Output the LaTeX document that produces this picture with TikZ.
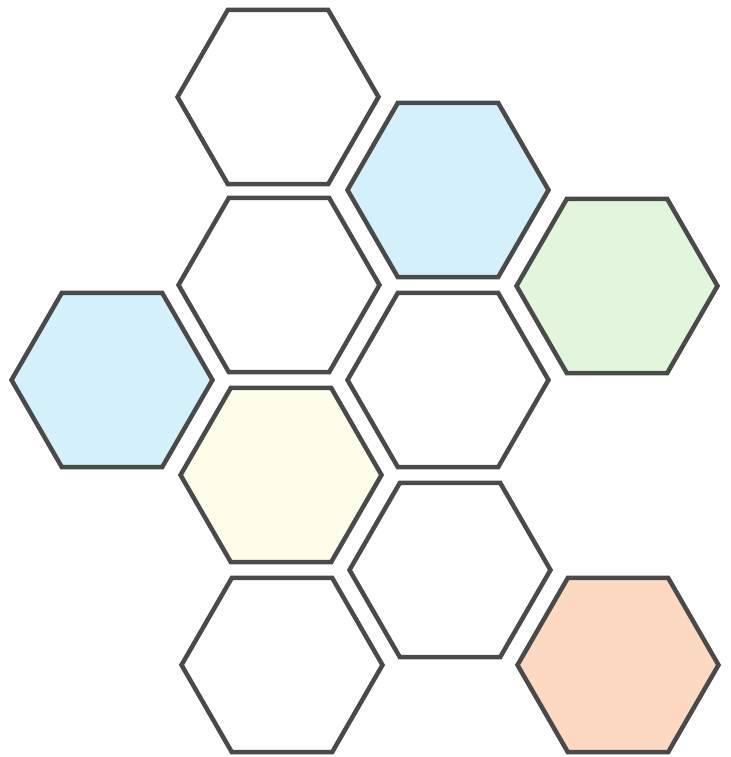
\documentclass[tikz,border=0pt]{standalone}
\usetikzlibrary{shapes.geometric}
\definecolor{hexline}{HTML}{4A4A4A}
\definecolor{hexblue}{HTML}{D4F0FA}
\definecolor{hexgreen}{HTML}{E2F6DE}
\definecolor{hexyellow}{HTML}{FDFEEA}
\definecolor{hexorange}{HTML}{FCD9C0}
\tikzset{
  hexcell/.style={regular polygon,regular polygon sides=6,minimum size=4.02cm,
    inner sep=0pt,draw=hexline,line width=0.09cm,fill=white}
}
\begin{document}
\begin{tikzpicture}[x=0.02cm,y=-0.02cm]
  \useasboundingbox (0,0) rectangle (730,757);
  \node[hexcell] (top) at (278,97) {};
  \node[hexcell,fill=hexblue] (blueA) at (448,190) {};
  \node[hexcell,fill=hexgreen] (green) at (617,286) {};
  \node[hexcell] (midA) at (279,285) {};
  \node[hexcell,fill=hexblue] (blueB) at (112,380) {};
  \node[hexcell] (midB) at (448,380) {};
  \node[hexcell,fill=hexyellow] (yellow) at (281,475) {};
  \node[hexcell] (midC) at (450,570) {};
  \node[hexcell] (bottom) at (282,665) {};
  \node[hexcell,fill=hexorange] (orange) at (618,665) {};
\end{tikzpicture}
\end{document}
